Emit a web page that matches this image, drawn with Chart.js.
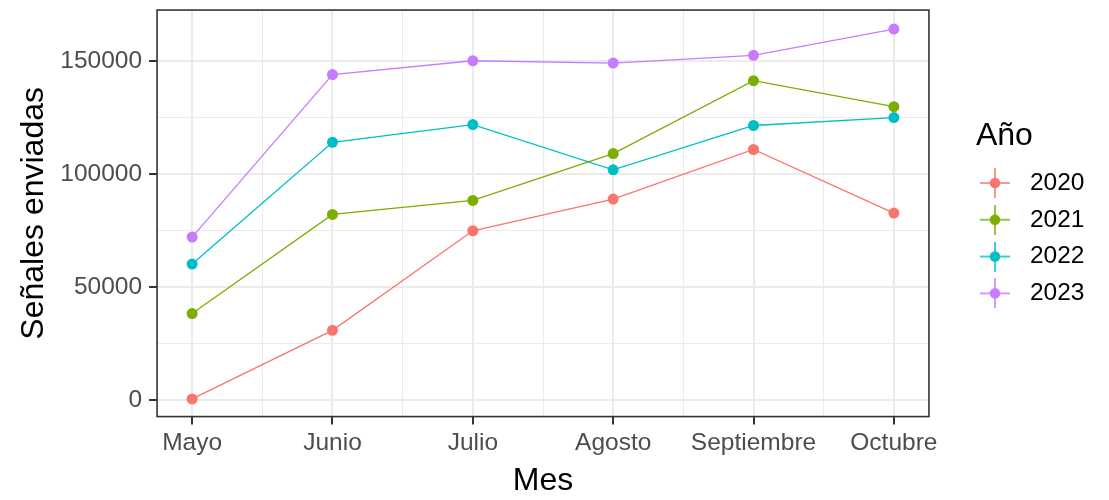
<!DOCTYPE html>
<html>
<head>
<meta charset="utf-8">
<script src="https://cdn.jsdelivr.net/npm/chart.js@4"></script>
<style>
  html, body { margin: 0; padding: 0; background: #ffffff; }
</style>
</head>
<body>
<canvas id="chart" width="1109" height="500"></canvas>
<script>
// values
const months = ['Mayo', 'Junio', 'Julio', 'Agosto', 'Septiembre', 'Octubre']
const years = ['2020', '2021', '2022', '2023']
const s2020 = [600, 30900, 74900, 88900, 110800, 82700]
const s2021 = [38300, 82100, 88300, 109000, 141200, 129700]
const s2022 = [60200, 114000, 121800, 101800, 121400, 124900]
const s2023 = [72100, 143900, 150000, 149000, 152400, 164000]
const yTicks = [0, 25000, 50000, 75000, 100000, 125000, 150000]
const xTicks = [1, 1.5, 2, 2.5, 3, 3.5, 4, 4.5, 5, 5.5, 6]

const yearColors = ['#F8766D', '#7CAE00', '#00BFC4', '#C77CFF']
const series = [s2020, s2021, s2022, s2023]

Chart.defaults.font.family = '"Liberation Sans", Arial, sans-serif'

// ggplot-like legend key: cross with a dot (cross sits left of the image centre)
function legendKey(color) {
  const c = document.createElement('canvas')
  c.width = 46
  c.height = 30
  const g = c.getContext('2d')
  g.strokeStyle = color
  g.lineWidth = 1.5
  g.beginPath()
  g.moveTo(0, 15); g.lineTo(30, 15)
  g.moveTo(15, 0); g.lineTo(15, 30)
  g.stroke()
  g.fillStyle = color
  g.beginPath()
  g.arc(15, 15, 5.3, 0, Math.PI * 2)
  g.fill()
  return c
}
const legendKeys = yearColors.map(legendKey)

const panelBorder = {
  id: 'panelBorder',
  afterDraw(chart) {
    const { ctx, chartArea: a } = chart
    ctx.save()
    ctx.strokeStyle = '#333333'
    ctx.lineWidth = 1.6
    ctx.strokeRect(a.left, a.top, a.right - a.left, a.bottom - a.top)
    ctx.restore()
  }
}

const isMajorX = v => Number.isInteger(v)
const isMajorY = v => v % 50000 === 0

const datasets = years.map((year, i) => ({
  label: year,
  data: series[i].map((v, j) => ({ x: j + 1, y: v })),
  borderColor: yearColors[i],
  backgroundColor: yearColors[i],
  pointBackgroundColor: yearColors[i],
  borderWidth: 1.3,
  pointRadius: 5.5,
  pointBorderWidth: 0,
  tension: 0
}))

new Chart(document.getElementById('chart'), {
  type: 'line',
  data: { datasets: datasets },
  options: {
    responsive: false,
    animation: false,
    events: [],
    layout: { padding: { left: 14.9, top: 10, right: 14.5, bottom: 0 } },
    scales: {
      x: {
        type: 'linear',
        min: 0.75,
        max: 6.25,
        afterBuildTicks: s => { s.ticks = xTicks.map(v => ({ value: v })) },
        ticks: {
          autoSkip: false,
          maxRotation: 0,
          padding: 7,
          color: '#4D4D4D',
          font: { size: 24.5, lineHeight: 0.94 },
          callback: v => isMajorX(v) ? months[v - 1] : ''
        },
        grid: {
          color: '#EBEBEB',
          lineWidth: c => isMajorX(c.tick.value) ? 2 : 1,
          tickLength: 8,
          tickWidth: 2,
          tickColor: c => isMajorX(c.tick.value) ? '#333333' : 'rgba(0,0,0,0)'
        },
        border: { display: false },
        title: {
          display: true,
          text: 'Mes',
          color: '#000000',
          font: { size: 32 },
          padding: { top: 0, bottom: 0 }
        }
      },
      y: {
        min: -7200,
        max: 172400,
        afterBuildTicks: s => { s.ticks = yTicks.map(v => ({ value: v })) },
        ticks: {
          padding: 7,
          color: '#4D4D4D',
          font: { size: 24.5, lineHeight: 0.25 },
          callback: v => isMajorY(v) ? String(v) : ''
        },
        grid: {
          color: '#EBEBEB',
          lineWidth: c => isMajorY(c.tick.value) ? 2 : 1,
          tickLength: 8,
          tickWidth: 2,
          tickColor: c => isMajorY(c.tick.value) ? '#333333' : 'rgba(0,0,0,0)'
        },
        border: { display: false },
        title: {
          display: true,
          text: 'Señales enviadas',
          color: '#000000',
          font: { size: 32 },
          padding: { top: 0, bottom: 0 }
        }
      },
      // empty spacer between the panel and the legend
      gap: {
        type: 'linear',
        position: 'right',
        display: true,
        grid: { display: false },
        ticks: { display: false },
        border: { display: false },
        afterFit: s => { s.width = 47 }
      }
    },
    plugins: {
      tooltip: { enabled: false },
      legend: {
        position: 'right',
        align: 'start',
        title: {
          display: true,
          text: 'Año',
          color: '#000000',
          position: 'start',
          font: { size: 32 },
          padding: { top: 110, bottom: 0 }
        },
        labels: {
          usePointStyle: true,
          pointStyleWidth: 29.5,
          padding: 12.3,
          color: '#000000',
          font: { size: 24.5 },
          generateLabels: chart =>
            Chart.defaults.plugins.legend.labels.generateLabels(chart)
              .map((item, i) => Object.assign(item, { pointStyle: legendKeys[i] }))
        }
      }
    }
  },
  plugins: [panelBorder]
})
</script>
</body>
</html>
